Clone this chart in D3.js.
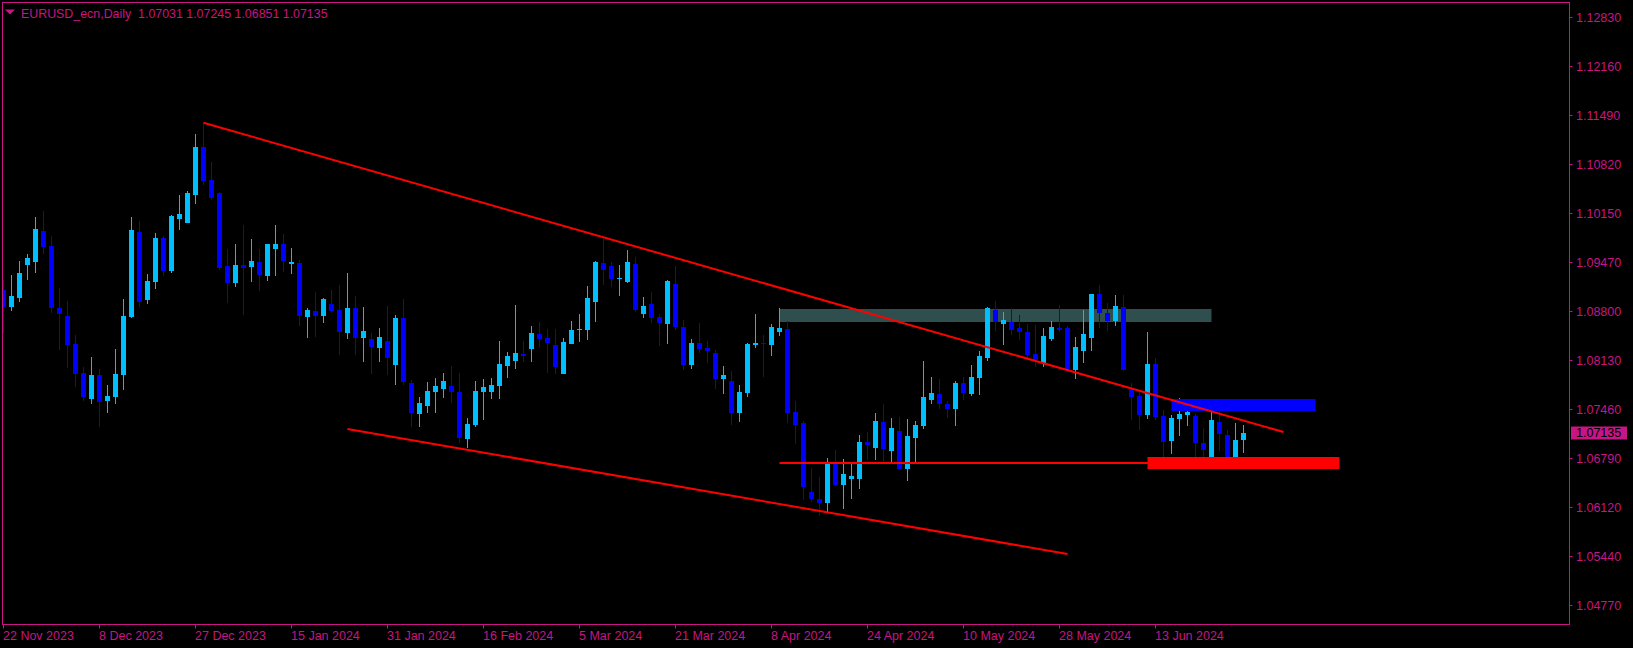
<!DOCTYPE html>
<html><head><meta charset="utf-8">
<script src="https://cdn.jsdelivr.net/npm/d3@7"></script>
<style>html,body{margin:0;padding:0;background:#000;overflow:hidden}</style>
</head><body><svg id="c" width="1633" height="648"></svg>
<script>
const symbolTitle = "EURUSD_ecn,Daily";
const lastBar = [1.07031, 1.07245, 1.06851, 1.07135];

const openP = [1.09092,1.08863,1.08987,1.09439,1.09480,1.09900,1.09695,1.08845,1.08736,1.08352,
1.07954,1.07598,1.07923,1.07574,1.07625,1.07927,1.08722,1.09887,1.08959,1.09206,
1.09805,1.09352,1.10065,1.10010,1.10394,1.11052,1.10600,1.10421,1.09421,1.09188,
1.09435,1.09407,1.09476,1.09284,1.09654,1.09722,1.09448,1.09462,1.08722,1.08804,
1.08736,1.08900,1.08818,1.08503,1.08845,1.08434,1.08420,1.08297,1.08393,1.08064,
1.08708,1.07817,1.07392,1.07502,1.07694,1.07735,1.07776,1.07694,1.07049,1.07241,
1.07694,1.07694,1.07776,1.08050,1.08119,1.08215,1.08284,1.08489,1.08434,1.08339,
1.07940,1.08352,1.08544,1.08544,1.08928,1.09462,1.09421,1.09243,1.09202,1.09448,
1.08763,1.08900,1.08722,1.08626,1.09174,1.08585,1.08064,1.08366,1.08297,1.08229,
1.07872,1.07845,1.07406,1.07680,1.08339,1.08366,1.08339,1.08516,1.08557,1.07419,
1.07269,1.06323,1.06227,1.06172,1.06721,1.06419,1.06502,1.06502,1.07008,1.06926,
1.07283,1.06885,1.07159,1.06638,1.07063,1.07228,1.07584,1.07666,1.07529,1.07461,
1.07817,1.07666,1.07886,1.08160,1.08818,1.08626,1.08653,1.08571,1.08516,1.08215,
1.08091,1.08420,1.08571,1.08571,1.07995,1.08256,1.08434,1.09037,1.08777,1.08667,
1.08859,1.07721,1.07639,1.07378,1.08078,1.07365,1.07022,1.07323,1.07378,1.07365,
1.06995,1.06762,1.07283,1.07104,1.06776,1.07031];
const highP = [1.09229,1.09297,1.09489,1.09585,1.10092,1.10174,1.09832,1.09119,1.08941,1.08476,
1.08036,1.08174,1.08009,1.07790,1.08284,1.08969,1.10092,1.10037,1.09311,1.09873,
1.09832,1.10119,1.10394,1.10449,1.11230,1.11381,1.10846,1.10435,1.09654,1.09722,
1.09983,1.09791,1.09654,1.09722,1.09983,1.09859,1.09667,1.09503,1.08845,1.09064,
1.08982,1.09092,1.09161,1.09325,1.09010,1.08859,1.08503,1.08571,1.08873,1.08749,
1.08969,1.07858,1.07625,1.07831,1.07886,1.07954,1.08050,1.07954,1.07337,1.07845,
1.07872,1.07886,1.08393,1.08242,1.08886,1.08393,1.08598,1.08653,1.08557,1.08557,
1.08434,1.08667,1.08763,1.09147,1.09489,1.09805,1.09476,1.09435,1.09640,1.09544,
1.08996,1.09064,1.08763,1.09229,1.09421,1.08681,1.08420,1.08640,1.08393,1.08270,
1.08050,1.07982,1.07790,1.08366,1.08763,1.08476,1.08626,1.08845,1.08667,1.07570,
1.07296,1.06652,1.06529,1.06789,1.06899,1.06776,1.06721,1.07104,1.07145,1.07406,
1.07529,1.07337,1.07351,1.07323,1.07296,1.08119,1.07899,1.07872,1.07570,1.07845,
1.07899,1.08064,1.08256,1.08859,1.08941,1.08790,1.08845,1.08749,1.08626,1.08612,
1.08571,1.08667,1.08886,1.08598,1.08448,1.08818,1.09037,1.09161,1.08914,1.09023,
1.09023,1.07817,1.07694,1.08516,1.08160,1.07447,1.07378,1.07611,1.07502,1.07392,
1.07200,1.07461,1.07433,1.07173,1.07269,1.07245];
const lowP = [1.08507,1.08808,1.08932,1.09233,1.09329,1.09589,1.08777,1.08274,1.08027,1.07768,
1.07574,1.07533,1.07218,1.07410,1.07533,1.07725,1.08708,1.08863,1.08904,1.09110,
1.09287,1.09325,1.09914,1.10010,1.10270,1.10531,1.10325,1.09366,1.08914,1.09133,
1.08749,1.09202,1.09078,1.09215,1.09284,1.09338,1.09311,1.08598,1.08434,1.08448,
1.08640,1.08777,1.08201,1.08420,1.08201,1.08105,1.07940,1.08105,1.07927,1.07790,
1.07790,1.07214,1.07214,1.07406,1.07406,1.07611,1.07543,1.06995,1.06926,1.07214,
1.07310,1.07598,1.07598,1.07886,1.08009,1.08105,1.08105,1.08311,1.07954,1.07940,
1.07940,1.08352,1.08379,1.08407,1.08653,1.09161,1.09133,1.09010,1.09188,1.08790,
1.08708,1.08640,1.08325,1.08352,1.08544,1.07995,1.08009,1.08229,1.08091,1.07735,
1.07666,1.07241,1.07283,1.07625,1.08297,1.07899,1.08187,1.08462,1.07269,1.06981,
1.06214,1.06186,1.05995,1.06049,1.06406,1.06090,1.06227,1.06365,1.06762,1.06762,
1.06735,1.06735,1.06638,1.06474,1.06721,1.07186,1.07529,1.07461,1.07337,1.07228,
1.07584,1.07639,1.07653,1.08119,1.08530,1.08339,1.08476,1.08407,1.08160,1.08036,
1.08036,1.08393,1.08516,1.07995,1.07872,1.08091,1.08256,1.08571,1.08530,1.08598,
1.07982,1.07310,1.07173,1.07323,1.07310,1.06666,1.06844,1.07090,1.07228,1.06803,
1.06693,1.06735,1.06885,1.06638,1.06748,1.06851];
const closeP = [1.08863,1.09010,1.09325,1.09530,1.09928,1.09685,1.08849,1.08767,1.08339,1.07945,
1.07625,1.07927,1.07561,1.07639,1.07940,1.08736,1.09914,1.08932,1.09215,1.09805,
1.09352,1.10106,1.10133,1.10421,1.11052,1.10586,1.10353,1.09393,1.09188,1.09435,
1.09393,1.09489,1.09297,1.09722,1.09722,1.09489,1.09476,1.08736,1.08818,1.08736,
1.08969,1.08804,1.08516,1.08845,1.08434,1.08530,1.08311,1.08448,1.08160,1.08708,
1.07831,1.07406,1.07543,1.07707,1.07776,1.07845,1.07694,1.07063,1.07255,1.07707,
1.07762,1.07790,1.08078,1.08187,1.08229,1.08187,1.08503,1.08420,1.08366,1.08036,
1.08379,1.08544,1.08557,1.08982,1.09476,1.09366,1.09243,1.09256,1.09476,1.08818,
1.08873,1.08708,1.08640,1.09215,1.08585,1.08064,1.08366,1.08284,1.08256,1.07872,
1.07927,1.07406,1.07694,1.08352,1.08366,1.08352,1.08585,1.08571,1.07406,1.07241,
1.06392,1.06227,1.06172,1.06721,1.06419,1.06570,1.06543,1.07008,1.06967,1.07296,
1.06913,1.07200,1.06638,1.07090,1.07241,1.07625,1.07680,1.07529,1.07461,1.07817,
1.07680,1.07899,1.08187,1.08845,1.08653,1.08681,1.08544,1.08516,1.08201,1.08133,
1.08462,1.08585,1.08544,1.08009,1.08311,1.08489,1.09037,1.08777,1.08667,1.08873,
1.07995,1.07625,1.07378,1.08078,1.07351,1.07008,1.07337,1.07392,1.07419,1.06995,
1.06899,1.07310,1.07118,1.06789,1.07036,1.07135];

const xTickIndex = [0,12,24,36,48,60,72,84,96,108,120,132,144];
const xTickLabels = ["22 Nov 2023","8 Dec 2023","27 Dec 2023","15 Jan 2024","31 Jan 2024","16 Feb 2024","5 Mar 2024","21 Mar 2024","8 Apr 2024","24 Apr 2024","10 May 2024","28 May 2024","13 Jun 2024"];
const yTickValues = [1.12830,1.12160,1.11490,1.10820,1.10150,1.09470,1.08800,1.08130,1.07460,1.06790,1.06120,1.05440,1.04770];

// overlays: [startIndex, startPrice, endIndex, endPrice]
const upperTrend = [25, 1.11385, 160, 1.07145];
const lowerTrend = [43, 1.07186, 133, 1.05473];
const supportLine = [97, 1.0672, 150, 1.0672];
const greyZone = [97, 1.08831, 151, 1.08653];
const blueZone = [146, 1.07598, 164, 1.07433];
const redZone = [143, 1.06803, 167, 1.06638];

const FG = "#C71585", UP = "#00BFFF", DOWN = "#0000FF";
const svg = d3.select("#c");
svg.append("rect").attr("width",1633).attr("height",648).attr("fill","#000");

const plot = {l:2, t:2, r:1569, b:624};
const x = d3.scaleLinear().domain([0,1]).range([3.5,11.5]);
const y = d3.scaleLinear().domain([1.04513,1.1304]).range([624,2]);

svg.append("defs").append("clipPath").attr("id","clip").append("rect")
  .attr("x",plot.l+1).attr("y",plot.t+1).attr("width",plot.r-plot.l-1).attr("height",plot.b-plot.t-1);
const g = svg.append("g").attr("clip-path","url(#clip)");

function zone(z, color){
  const x0 = x(z[0]), x1 = x(z[2]);
  const y0 = Math.round(y(z[1])), y1 = Math.round(y(z[3]));
  g.append("rect").attr("x",x0).attr("y",y0).attr("width",x1-x0).attr("height",y1-y0).attr("fill",color);
}
zone(greyZone, "#2F4F4F");

const data = openP.map((o,i)=>({i, o, h:highP[i], l:lowP[i], c:closeP[i]}));
const cg = g.append("g");
data.forEach(d=>{
  const col = d.c > d.o ? UP : DOWN;
  const xc = x(d.i);
  const yh = Math.round(y(d.h)), yl = Math.round(y(d.l));
  cg.append("rect").attr("x",xc-0.5).attr("y",yh).attr("width",1).attr("height",Math.max(1,yl-yh)).attr("fill",col);
  const yt = Math.round(y(Math.max(d.o,d.c))), yb = Math.round(y(Math.min(d.o,d.c)));
  cg.append("rect").attr("x",xc-2.5).attr("y",yt).attr("width",5).attr("height",Math.max(1,yb-yt)).attr("fill",col);
});

zone(blueZone, DOWN);
zone(redZone, "#FF0000");

function tline(t){
  g.append("line").attr("x1",x(t[0])).attr("y1",y(t[1])).attr("x2",x(t[2])).attr("y2",y(t[3]))
    .attr("stroke","#FF0000").attr("stroke-width",2);
}
tline(upperTrend); tline(lowerTrend); tline(supportLine);

// frame
svg.append("rect").attr("x",plot.l+0.5).attr("y",plot.t+0.5).attr("width",plot.r-plot.l).attr("height",plot.b-plot.t)
  .attr("fill","none").attr("stroke",FG).attr("stroke-width",1);

const font = "'Liberation Sans', Arial, sans-serif";
// y axis
const ya = svg.append("g");
yTickValues.forEach(v=>{
  const yy = Math.round(y(v))+0.5;
  ya.append("line").attr("x1",plot.r+0.5).attr("x2",plot.r+3.5).attr("y1",yy).attr("y2",yy).attr("stroke",FG);
  ya.append("text").attr("x",1576).attr("y",yy).attr("dy","0.36em").attr("fill",FG)
    .attr("font-family",font).attr("font-size","12.5px").text(d3.format(".5f")(v));
});
// x axis
const xa = svg.append("g");
xTickIndex.forEach((k,j)=>{
  const xx = Math.floor(x(k))+0.5;
  xa.append("line").attr("x1",xx).attr("x2",xx).attr("y1",plot.b+0.5).attr("y2",plot.b+4.5).attr("stroke",FG);
  xa.append("text").attr("x",Math.floor(x(k))).attr("y",640).attr("fill",FG)
    .attr("font-family",font).attr("font-size","12.5px").text(xTickLabels[j]);
});

// last price label
const lp = closeP[closeP.length-1];
const ly = y(lp);
svg.append("rect").attr("x",1571).attr("y",Math.round(ly)-6.5).attr("width",56).attr("height",13).attr("fill",FG);
svg.append("text").attr("x",1576).attr("y",ly).attr("dy","0.36em").attr("fill","#000")
  .attr("font-family",font).attr("font-size","12.5px").text(d3.format(".5f")(lp));

// header
svg.append("path").attr("d","M5,9.5 L15,9.5 L10,14.5 Z").attr("fill",FG);
svg.append("text").attr("x",21).attr("y",17.5).attr("fill",FG).attr("font-family",font).attr("font-size","12.4px")
  .attr("xml:space","preserve")
  .text(symbolTitle + "  " + lastBar.map(d3.format(".5f")).join(" "));
</script></body></html>
